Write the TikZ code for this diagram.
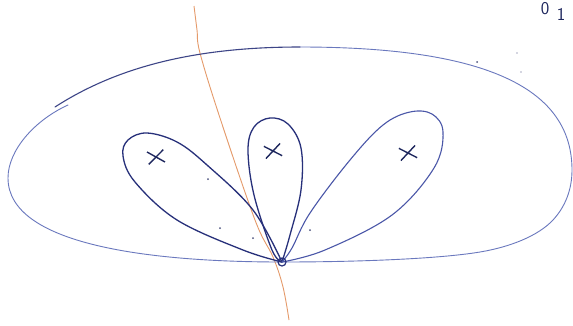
\documentclass[tikz,border=0pt]{standalone}
\usetikzlibrary{shapes.misc}
\definecolor{outerblue}{HTML}{6A78BE}
\definecolor{petalnavy}{HTML}{27307A}
\definecolor{petalblue}{HTML}{4A57A8}
\definecolor{inknavy}{HTML}{1E275E}
\definecolor{orangeline}{HTML}{E59A6A}
\tikzset{
  outerloop/.style={draw=outerblue, line width=0.9pt, line cap=round},
  petal/.style={draw=petalnavy, line width=1.3pt, line cap=round},
  petallight/.style={draw=petalblue, line width=1.1pt, line cap=round},
  crossmark/.style={cross out, draw=inknavy, line width=1.4pt, minimum width=15pt, minimum height=11pt, inner sep=0pt},
  speck/.style={fill=inknavy!80, draw=none, circle, inner sep=0pt, minimum size=2pt},
  handtext/.style={text=inknavy, font=\sffamily\fontsize{18}{18}\selectfont, inner sep=0pt, anchor=base}
}
\begin{document}
\begin{tikzpicture}[x=1pt,y=-1pt]
\useasboundingbox (0,0) rectangle (573,325);
\fill[white] (0,0) rectangle (573,325);

% orange line
\draw[orangeline, line width=0.9pt] plot[smooth, tension=0.6] coordinates {(194,6) (197,30) (200,53) (220,118) (255,220) (273,257) (283,287) (289,320)};

% base point and outer-loop anchors
\coordinate (B) at (282,262);
\coordinate (L) at (8,178);
\coordinate (E1) at (68,105);
\coordinate (S2) at (55,107);
\coordinate (T) at (300,47);
\coordinate (R) at (572,170);
\coordinate (R2) at (553,220);
\coordinate (R3) at (480,252);

% outer loop: lower-left stroke (light)
\draw[outerloop] (B) .. controls (150,262) and (8,245) .. (L)
                     .. controls (8,150) and (35,120) .. (E1);
% outer loop: upper stroke, starting with a darker hook
\draw[outerloop, draw=petalnavy!90, line width=1.1pt] (S2) .. controls (120,65) and (200,47) .. (T);
\draw[outerloop] (T) .. controls (490,47) and (572,90) .. (R)
                     .. controls (572,190) and (565,207) .. (R2)
                     .. controls (538,236) and (510,247) .. (R3)
                     .. controls (440,258.7) and (360,262) .. (B);

% left petal
\draw[petal] plot[smooth, tension=0.6] coordinates {(B) (243,250) (177,220) (135,182) (123,156) (128,140) (147,133) (177,142) (207,165) (253,210) (B)};
% middle petal
\draw[petal] plot[smooth, tension=0.6] coordinates {(B) (272,250) (254,195) (248,150) (254,127) (270,118) (288,124) (301,148) (301,190) (290,235) (B)};
% right petal
\draw[petallight] plot[smooth, tension=0.6] coordinates {(B) (292,248) (310,213) (350,160) (383,125) (410,112) (432,114) (443,132) (434,168) (392,215) (325,250) (B)};

% base point circle
\node[draw=petalnavy, line width=1.2pt, circle, minimum size=8pt, inner sep=0pt] (base) at (B) {};

% crosses
\node[crossmark, rotate=8] (x1) at (156,157) {};
\node[crossmark, rotate=10] (x2) at (273,151) {};
\node[crossmark, rotate=10] (x3) at (408,153) {};

% specks
\node[speck] (s1) at (208,179) {};
\node[speck] (s2) at (220,228) {};
\node[speck] (s3) at (253,238) {};
\node[speck] (s4) at (310,230) {};
\node[speck] (s5) at (477,62) {};
\node[speck, minimum size=1.2pt] (s6) at (521,72) {};
\node[speck, minimum size=1.2pt] (s7) at (517,53) {};

% text
\node[handtext] (t0) at (545,14) {0};
\node[handtext] (t1) at (561,20) {1};
\end{tikzpicture}
\end{document}
